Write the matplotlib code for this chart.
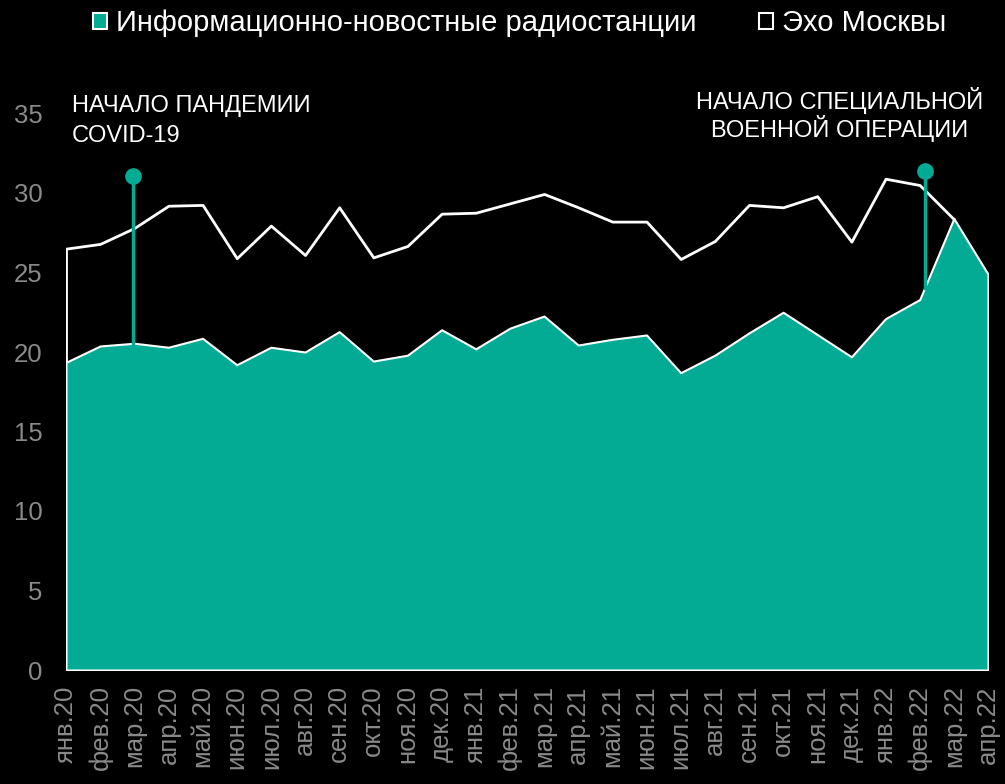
import matplotlib
matplotlib.use("Agg")
import matplotlib.pyplot as plt
from matplotlib.patches import Patch
import numpy as np

plt.rcParams['font.family'] = ['Liberation Sans', 'DejaVu Sans']

months = ['янв.20', 'фев.20', 'мар.20', 'апр.20', 'май.20', 'июн.20', 'июл.20', 'авг.20',
          'сен.20', 'окт.20', 'ноя.20', 'дек.20', 'янв.21', 'фев.21', 'мар.21', 'апр.21',
          'май.21', 'июн.21', 'июл.21', 'авг.21', 'сен.21', 'окт.21', 'ноя.21', 'дек.21',
          'янв.22', 'фев.22', 'мар.22', 'апр.22']

# информационно-новостные радиостанции
news = [19.35, 20.38, 20.55, 20.3, 20.86, 19.2, 20.3, 20.0,
        21.28, 19.43, 19.8, 21.4, 20.2, 21.5, 22.26, 20.44,
        20.8, 21.07, 18.7, 19.8, 21.2, 22.5, 21.1, 19.7,
        22.1, 23.3, 28.4, 24.9]

# Эхо Москвы (нет данных за апр.22)
echo = [26.5, 26.8, 27.8, 29.2, 29.25, 25.9, 27.95, 26.1,
        29.1, 25.95, 26.67, 28.7, 28.76, 29.35, 29.94, 29.1,
        28.2, 28.2, 25.85, 26.98, 29.25, 29.1, 29.8, 26.94,
        30.9, 30.5, 28.35, np.nan]

events = [['НАЧАЛО ПАНДЕМИИ', 'COVID-19'], ['НАЧАЛО СПЕЦИАЛЬНОЙ', 'ВОЕННОЙ ОПЕРАЦИИ']]
event_x = [1.95, 25.15]
event_top = [31.1, 31.4]
event_bottom = [20.55, 24.05]

teal = '#03AB95'
grey = '#8a8a8a'

fig = plt.figure(figsize=(10.05, 7.84), dpi=100, facecolor='black')
ax = fig.add_axes([66 / 1005, 114 / 784, 922 / 1005, 38 * 15.9 / 784])
ax.set_facecolor('black')

x = np.arange(len(months))
ex = x[:len(echo) - 1]
ax.fill_between(ex, 0, echo[:-1], facecolor='black', edgecolor='white', linewidth=2)
ax.fill_between(x, 0, news, facecolor=teal, edgecolor='white', linewidth=1.5)

for xe, top, bot in zip(event_x, event_top, event_bottom):
    ax.plot([xe, xe], [bot, top], color=teal, linewidth=2.5, zorder=4)
    ax.plot(xe, top, 'o', color=teal, markersize=11, zorder=5)

ax.text(0.18, 35.5, events[0][0], color='white', fontsize=17, ha='left', va='center')
ax.text(0.18, 33.6, events[0][1], color='white', fontsize=17, ha='left', va='center')
ax.text(22.65, 35.8, events[1][0], color='white', fontsize=17, ha='center', va='center')
ax.text(22.65, 34.05, events[1][1], color='white', fontsize=17, ha='center', va='center')

ax.set_xlim(0, len(months) - 1)
ax.set_ylim(0, 38)
ax.set_xticks(x)
ax.set_xticklabels(months, rotation=90, va='top', ha='center')
ax.set_yticks(range(0, 36, 5))
ax.tick_params(axis='y', length=0, pad=17, labelsize=18.5, labelcolor=grey)
ax.tick_params(axis='x', length=0, pad=11, labelsize=18.5, labelcolor=grey)
for s in ax.spines.values():
    s.set_visible(False)

handles = [Patch(facecolor=teal, edgecolor='white', linewidth=1.5),
           Patch(facecolor='black', edgecolor='white', linewidth=1.5)]
fig.legend(handles, ['Информационно-новостные радиостанции', 'Эхо Москвы'],
           loc='upper center', bbox_to_anchor=(0.517, 1.022), ncol=2, frameon=False,
           fontsize=21, labelcolor='white', handlelength=0.48, handleheight=0.48,
           handletextpad=0.3, columnspacing=2.15)

fig.savefig('out.png', dpi=100, facecolor='black')
